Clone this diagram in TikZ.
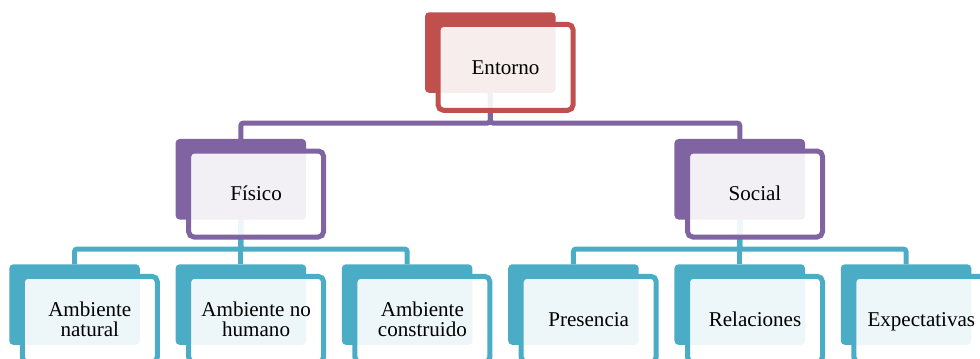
\documentclass[tikz,border=0pt]{standalone}
\usepackage{fontspec}
\setmainfont{Liberation Serif}
\definecolor{cred}{HTML}{C0504D}
\definecolor{cpurple}{HTML}{8064A2}
\definecolor{cteal}{HTML}{4BACC6}
\begin{document}
\begin{tikzpicture}[x=0.75pt,y=-0.75pt,
  backbox/.style={rectangle, rounded corners=3pt, minimum width=97.9pt, minimum height=60.4pt, inner sep=0pt, outer sep=0pt, draw=none},
  frontbox/.style={rectangle, rounded corners=4pt, minimum width=101.25pt, minimum height=64.5pt, inner sep=0pt, line width=3.75pt, fill=white, fill opacity=0.9, draw opacity=1, text opacity=1, align=center, font=\fontsize{15.8}{15.6}\selectfont},
  oneline/.style={text height=10.4pt, text depth=0pt},
  conn/.style={line width=3.75pt, rounded corners=2pt}]
\useasboundingbox (0,0) rectangle (980,358);
\clip (0,0) rectangle (980,358);
\coordinate (h1) at (0,123);
\coordinate (h2) at (0,249);
% back boxes (positions)
\path
  (490.3,52.55)   node[backbox] (e-b) {}
  (240.85,179.25) node[backbox] (f-b) {}
  (739.75,179.25) node[backbox] (s-b) {}
  (74.55,304.55)  node[backbox] (an-b) {}
  (240.85,304.55) node[backbox] (ah-b) {}
  (407.15,304.55) node[backbox] (ac-b) {}
  (573.45,304.55) node[backbox] (p-b) {}
  (739.75,304.55) node[backbox] (r-b) {}
  (906.05,304.55) node[backbox] (x-b) {};
% connectors
\draw[conn, cpurple] (e-b.center) -- (e-b.center |- h1) -| (f-b.north);
\draw[conn, cpurple] (e-b.center) -- (e-b.center |- h1) -| (s-b.north);
\draw[conn, cteal] (f-b.center) -- (f-b.center |- h2) -| (an-b.north);
\draw[conn, cteal] (f-b.center) -- (f-b.center |- h2) -| (ah-b.north);
\draw[conn, cteal] (f-b.center) -- (f-b.center |- h2) -| (ac-b.north);
\draw[conn, cteal] (s-b.center) -- (s-b.center |- h2) -| (p-b.north);
\draw[conn, cteal] (s-b.center) -- (s-b.center |- h2) -| (r-b.north);
\draw[conn, cteal] (s-b.center) -- (s-b.center |- h2) -| (x-b.north);
% filled back boxes
\fill[cred, rounded corners=3pt] (e-b.north west) rectangle (e-b.south east);
\fill[cpurple, rounded corners=3pt] (f-b.north west) rectangle (f-b.south east);
\fill[cpurple, rounded corners=3pt] (s-b.north west) rectangle (s-b.south east);
\foreach \n in {an,ah,ac,p,r,x}
  \fill[cteal, rounded corners=3pt] (\n-b.north west) rectangle (\n-b.south east);
% front boxes with text
\node[frontbox, oneline, draw=cred] (e) at (505.55,67.3) {Entorno};
\node[frontbox, oneline, draw=cpurple] (f) at (256.1,194) {Físico};
\node[frontbox, oneline, draw=cpurple] (s) at (755,194) {Social};
\node[frontbox, draw=cteal] (an) at (89.8,319.3) {Ambiente\\natural};
\node[frontbox, draw=cteal] (ah) at (256.1,319.3) {Ambiente no\\humano};
\node[frontbox, draw=cteal] (ac) at (422.4,319.3) {Ambiente\\construido};
\node[frontbox, oneline, draw=cteal] (p) at (588.7,319.3) {Presencia};
\node[frontbox, oneline, draw=cteal] (r) at (755,319.3) {Relaciones};
\node[frontbox, oneline, draw=cteal] (x) at (921.3,319.3) {Expectativas};
\end{tikzpicture}
\end{document}
